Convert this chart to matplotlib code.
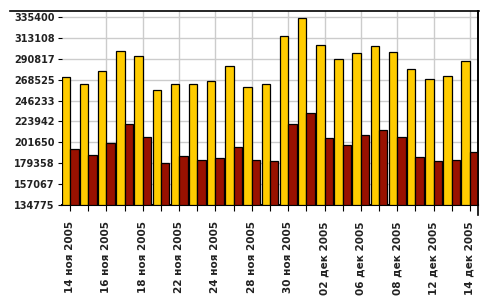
import numpy as np
import matplotlib
matplotlib.use("Agg")
import matplotlib.pyplot as plt
from matplotlib.lines import Line2D

# Даты (рабочие дни) и значения двух рядов
fechas = ["14 ноя 2005", "15 ноя 2005", "16 ноя 2005", "17 ноя 2005", "18 ноя 2005",
          "21 ноя 2005", "22 ноя 2005", "23 ноя 2005", "24 ноя 2005", "25 ноя 2005",
          "28 ноя 2005", "29 ноя 2005", "30 ноя 2005", "01 дек 2005", "02 дек 2005",
          "05 дек 2005", "06 дек 2005", "07 дек 2005", "08 дек 2005", "09 дек 2005",
          "12 дек 2005", "13 дек 2005", "14 дек 2005"]

serie_oro = [271989, 264465, 278438, 299934, 294560, 258017, 264465, 264465,
             267689, 283812, 261241, 264465, 316058, 334325, 306384, 291336,
             297785, 305309, 298860, 280587, 269839, 273064, 289187]

serie_roja = [194605, 188156, 201054, 221475, 206786, 179557, 187081, 182782,
              184931, 196755, 182782, 181708, 221475, 233298, 206427, 198904,
              209652, 215025, 207502, 186006, 181708, 182782, 191381]

y_ticks = [134775, 157067, 179358, 201650, 223942, 246233, 268525, 290817, 313108, 335400]

fig = plt.figure(figsize=(4.95, 3.0), dpi=100)
ax = fig.add_axes([0.1246, 0.318, 0.8417, 0.647])

x = np.arange(len(fechas))
w = 0.465

ax.bar(x, np.array(serie_oro) - y_ticks[0], bottom=y_ticks[0], width=w, align="edge",
       color="#FFCC00", edgecolor="black", linewidth=0.9, zorder=3)
ax.bar(x + w, np.array(serie_roja) - y_ticks[0], bottom=y_ticks[0], width=w, align="edge",
       color="#991100", edgecolor="black", linewidth=0.9, zorder=3)

ax.set_xlim(0, len(fechas) - 1 + 2 * w)
ax.set_ylim(y_ticks[0], 342900)

# rejilla
for v in y_ticks[1:]:
    ax.axhline(v, color="#cccccc", linewidth=1, zorder=1)
for i in x[2::2]:
    ax.axvline(i + w, color="#cccccc", linewidth=1, zorder=1)

ax.set_yticks(y_ticks)
ax.set_yticklabels([str(v) for v in y_ticks], fontsize=7, fontweight="bold", color="#222222")

ax.set_xticks(x + w)
ax.set_xticklabels([f if i % 2 == 0 else "" for i, f in enumerate(fechas)],
                   rotation=90, fontsize=7.5, fontweight="bold", color="#222222")

ax.tick_params(axis="y", length=3, width=0.8, pad=2)
ax.tick_params(axis="x", length=4, width=0.8, pad=8)

ax.spines["left"].set_visible(False)
ax.spines["top"].set_visible(False)
ax.spines["bottom"].set_linewidth(1.5)
ax.spines["right"].set_linewidth(1.2)

# linea superior y prolongacion del borde derecho
fig.add_artist(Line2D([10 / 495, 478.5 / 495], [1 - 10.5 / 300, 1 - 10.5 / 300],
                      color="black", linewidth=1.2))
fig.add_artist(Line2D([478.3 / 495, 478.3 / 495], [1 - 215 / 300, 1 - 10.5 / 300],
                      color="black", linewidth=1.2))

fig.savefig("out.png", dpi=100)
